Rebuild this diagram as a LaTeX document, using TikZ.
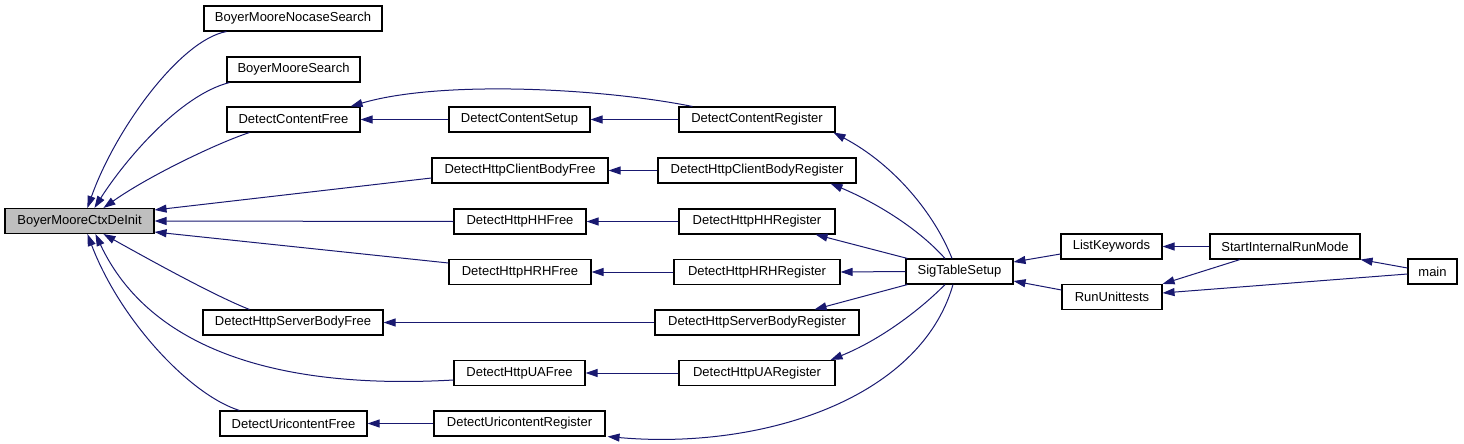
\documentclass[tikz,border=0pt]{standalone}
\usepackage{fontspec}
\setmainfont{Liberation Sans}
\usetikzlibrary{arrows.meta}
\definecolor{edgeblue}{RGB}{25,25,112}
\definecolor{rootgray}{RGB}{191,191,191}
\begin{document}
\begin{tikzpicture}[x=1pt,y=-1pt,
  fn/.style={draw=black,line width=1.1pt,fill=white,minimum height=25pt,inner sep=0pt,font=\fontsize{13}{15}\selectfont},
  call/.style={draw=edgeblue,line width=1pt,-{Triangle[length=12pt,width=8pt]}}]
\useasboundingbox (0,0) rectangle (1464,444);
% nodes
\node[fn,minimum width=149pt,fill=rootgray] (a) at (79.5,221) {BoyerMooreCtxDeInit};
\node[fn,minimum width=178pt] (b) at (293,18.5) {BoyerMooreNocaseSearch};
\node[fn,minimum width=133pt] (c) at (293.5,69.5) {BoyerMooreSearch};
\node[fn,minimum width=133pt] (d) at (293.5,119.5) {DetectContentFree};
\node[fn,minimum width=141pt] (e) at (519.5,119.5) {DetectContentSetup};
\node[fn,minimum width=156pt] (f) at (757,119.5) {DetectContentRegister};
\node[fn,minimum width=176pt] (g) at (520,170.5) {DetectHttpClientBodyFree};
\node[fn,minimum width=198pt] (h) at (757,170.5) {DetectHttpClientBodyRegister};
\node[fn,minimum width=132pt] (i) at (520,221.5) {DetectHttpHHFree};
\node[fn,minimum width=156pt] (j) at (757,221.5) {DetectHttpHHRegister};
\node[fn,minimum width=142pt] (k) at (520,272) {DetectHttpHRHFree};
\node[fn,minimum width=166pt] (l) at (757,272) {DetectHttpHRHRegister};
\node[fn,minimum width=180pt] (m) at (293,322.5) {DetectHttpServerBodyFree};
\node[fn,minimum width=204pt] (n) at (757,322.5) {DetectHttpServerBodyRegister};
\node[fn,minimum width=131pt] (o) at (519.5,373) {DetectHttpUAFree};
\node[fn,minimum width=156pt] (p) at (757,373) {DetectHttpUARegister};
\node[fn,minimum width=147pt] (q) at (293.5,423.5) {DetectUricontentFree};
\node[fn,minimum width=171pt] (r) at (519.5,423.5) {DetectUricontentRegister};
\node[fn,minimum width=107pt] (s) at (959.5,271.5) {SigTableSetup};
\node[fn,minimum width=101pt] (t) at (1111.5,246.5) {ListKeywords};
\node[fn,minimum width=100pt] (u) at (1112,297) {RunUnittests};
\node[fn,minimum width=150pt] (v) at (1285,246.5) {StartInternalRunMode};
\node[fn,minimum width=49pt] (w) at (1432.5,271.5) {main};
% edges into BoyerMooreCtxDeInit
\draw[call] ([xshift=23pt]b.south west) .. controls (180,40) and (115,130) .. ([xshift=83pt]a.north west);
\draw[call] ([xshift=3pt]c.south west) .. controls (180,95) and (125,160) .. ([xshift=90pt]a.north west);
\draw[call] ([xshift=23pt]d.south west) .. controls (220,142) and (150,175) .. ([xshift=99pt]a.north west);
\draw[call] ([yshift=-7.5pt]g.west) -- ([yshift=11pt]a.east);
\draw[call] (i.west) -- (a.east);
\draw[call] ([yshift=9pt]k.west) -- ([yshift=-11pt]a.east);
\draw[call] ([xshift=47pt]m.north west) .. controls (215,296) and (150,260) .. ([xshift=99pt]a.south west);
\draw[call] ([yshift=-7pt]o.west) .. controls (280,390) and (150,350) .. ([xshift=91pt]a.south west);
\draw[call] ([xshift=20pt]q.north west) .. controls (190,395) and (120,320) .. ([xshift=83pt]a.south west);
% second column
\draw[call] ([xshift=14pt]f.north west) .. controls (600,88) and (440,80) .. ([xshift=-10pt]d.north east);
\draw[call] (e.west) -- (d.east);
\draw[call] (f.west) -- (e.east);
\draw[call] (h.west) -- (g.east);
\draw[call] (j.west) -- (i.east);
\draw[call] (l.west) -- (k.east);
\draw[call] (n.west) -- (m.east);
\draw[call] (p.west) -- (o.east);
\draw[call] (r.west) -- (q.east);
% SigTableSetup
\draw[call] ([xshift=-7.5pt]s.north) .. controls (935,215) and (895,165) .. ([xshift=-2pt]f.south east);
\draw[call] ([xshift=-14.5pt]s.north) .. controls (915,225) and (870,200) .. ([xshift=-26pt]h.south east);
\draw[call] ([xshift=2pt]s.north west) -- ([xshift=-20pt]j.south east);
\draw[call] (s.west) -- (l.east);
\draw[call] ([xshift=2pt]s.south west) -- ([xshift=-45pt]n.north east);
\draw[call] ([xshift=-14.5pt]s.south) .. controls (920,310) and (880,340) .. ([xshift=-5pt]p.north east);
\draw[call] ([xshift=-6.5pt]s.south) .. controls (920,400) and (760,450) .. ([xshift=2pt]r.south east);
% right part
\draw[call] ([yshift=-7.5pt]t.west) -- ([yshift=9.5pt]s.east);
\draw[call] ([yshift=7pt]u.west) -- ([yshift=-9.5pt]s.east);
\draw[call] (v.west) -- (t.east);
\draw[call] ([xshift=-45pt]v.south) -- (u.north east);
\draw[call] ([yshift=3.5pt]w.west) -- (v.south east);
\draw[call] ([yshift=-2.5pt]w.west) -- ([yshift=4pt]u.east);
\end{tikzpicture}
\end{document}
